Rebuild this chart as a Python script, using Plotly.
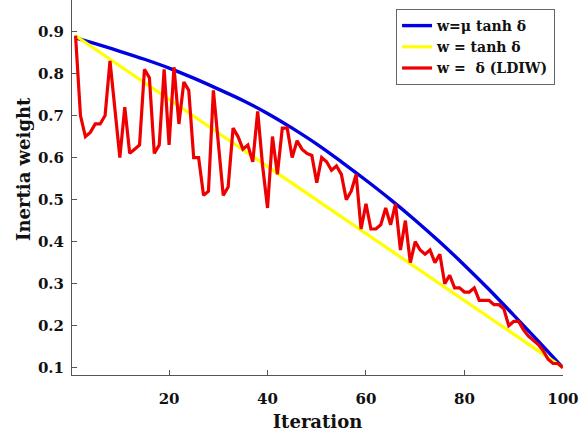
import plotly.graph_objects as go

# Iteration index for the LDIW series
iterations = list(range(1, 101))

# w = δ (LDIW) : inertia weight per iteration
w_ldiw = [
    0.89, 0.70, 0.65, 0.66, 0.68, 0.68, 0.70, 0.83, 0.715, 0.60,
    0.72, 0.61, 0.62, 0.63, 0.81, 0.79, 0.61, 0.63, 0.81, 0.63,
    0.815, 0.68, 0.78, 0.76, 0.60, 0.60, 0.51, 0.52, 0.76, 0.635,
    0.51, 0.53, 0.67, 0.65, 0.62, 0.63, 0.59, 0.71, 0.58, 0.48,
    0.65, 0.56, 0.67, 0.67, 0.60, 0.64, 0.62, 0.61, 0.605, 0.54,
    0.60, 0.59, 0.57, 0.58, 0.56, 0.50, 0.52, 0.56, 0.43, 0.49,
    0.43, 0.43, 0.44, 0.48, 0.44, 0.49, 0.38, 0.45, 0.35, 0.40,
    0.38, 0.37, 0.38, 0.35, 0.37, 0.30, 0.32, 0.29, 0.29, 0.28,
    0.28, 0.29, 0.26, 0.26, 0.26, 0.25, 0.25, 0.24, 0.20, 0.21,
    0.21, 0.19, 0.175, 0.165, 0.155, 0.14, 0.12, 0.11, 0.11, 0.10,
]

# w = μ tanh δ
mu_iter = [1, 5, 10, 15, 20, 25, 30, 35, 40, 45, 50, 55, 60, 65, 70, 75, 80, 85, 90, 95, 100]
w_mu_tanh = [0.885, 0.871, 0.853, 0.834, 0.813, 0.789, 0.763, 0.736, 0.705, 0.670, 0.632,
             0.590, 0.546, 0.500, 0.451, 0.399, 0.344, 0.286, 0.225, 0.163, 0.100]

# w = tanh δ
tanh_iter = [1, 100]
w_tanh = [0.89, 0.10]

y_ticks = [0.1, 0.2, 0.3, 0.4, 0.5, 0.6, 0.7, 0.8, 0.9]
x_ticks = [20, 40, 60, 80, 100]

FONT = "DejaVu Serif"
NBSP = "\u00a0"

fig = go.Figure()
fig.add_trace(go.Scatter(x=mu_iter, y=w_mu_tanh, mode="lines", name="w=μ tanh δ",
                         line=dict(color="#0000e0", width=3.4, shape="spline")))
fig.add_trace(go.Scatter(x=tanh_iter, y=w_tanh, mode="lines", name="w = tanh δ",
                         line=dict(color="#ffff00", width=3.2)))
fig.add_trace(go.Scatter(x=iterations, y=w_ldiw, mode="lines",
                         name="w =" + NBSP + NBSP + "δ (LDIW)",
                         line=dict(color="#ee0000", width=3.2)))

axis_common = dict(
    showgrid=False, zeroline=False, showline=True, linecolor="#555555", linewidth=1,
    ticks="inside", ticklen=5, tickcolor="#555555", tickwidth=1,
    tickfont=dict(family=FONT, size=15, color="#111111", weight="bold"),
    mirror=False, ticklabeloverflow="allow",
)

fig.update_layout(
    width=579, height=434,
    margin=dict(l=72, r=13, t=0, b=59),
    paper_bgcolor="white", plot_bgcolor="white",
    showlegend=True,
    legend=dict(
        x=0.66, y=0.976, xanchor="left", yanchor="top",
        bgcolor="white", bordercolor="#666666", borderwidth=1,
        font=dict(family=FONT, size=14, color="#111111", weight="bold"),
        tracegroupgap=0, itemwidth=30,
    ),
    xaxis=dict(range=[0.28, 100.02], tickvals=x_ticks, ticklabelstandoff=10,
               title=dict(text="Iteration", standoff=8,
                          font=dict(family=FONT, size=18, color="#111111", weight="bold")),
               **axis_common),
    yaxis=dict(range=[0.0826, 0.975], tickvals=y_ticks, tickformat=".1f",
               ticklabelstandoff=4, **axis_common),
    annotations=[dict(
        text="Inertia weight", textangle=-90, xref="paper", yref="paper",
        x=-0.1, y=1 - 169 / 375, xanchor="center", yanchor="middle", showarrow=False,
        font=dict(family=FONT, size=18, color="#111111", weight="bold"),
    )],
)

fig.write_html("out.html")
